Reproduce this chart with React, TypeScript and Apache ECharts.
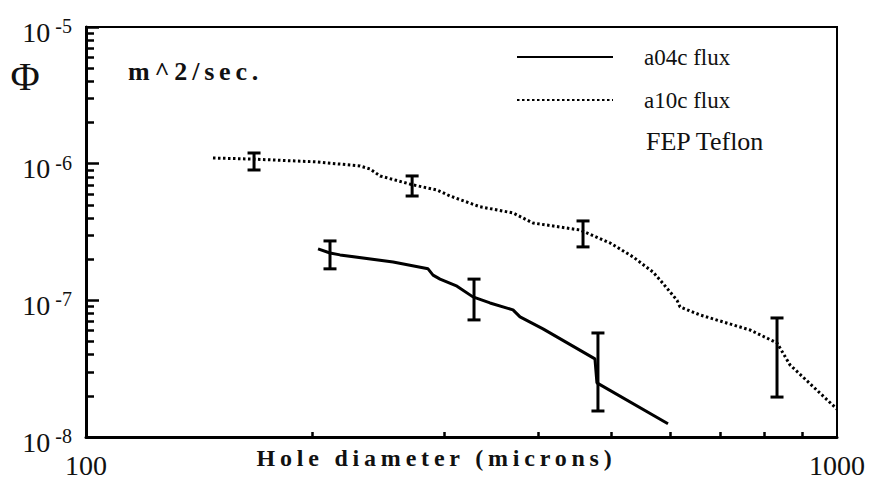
import React, { useEffect, useRef } from "react";
import * as echarts from "echarts";

// ---- data ----
const a04cX = [203.7, 211.3, 217.9, 256.4, 285.4, 289.8, 296.1, 311.9, 327.5, 345.1, 370.3, 378.4, 406.0, 476.1, 479.0, 595.6];
const a04cY = [2.38e-7, 2.22e-7, 2.15e-7, 1.91e-7, 1.70e-7, 1.53e-7, 1.43e-7, 1.27e-7, 1.06e-7, 9.57e-8, 8.51e-8, 7.56e-8, 6.18e-8, 3.73e-8, 2.49e-8, 1.25e-8];

const a10cX = [147.6, 166.9, 203.0, 231.6, 238.8, 246.4, 272.6, 293.4, 305.3, 334.6, 370.3, 393.7, 454.9, 498.7, 535.0, 568.9, 581.2, 612.4, 618.0, 656.9, 765.7, 832.0, 865.8, 1000];
const a10cY = [1.10e-6, 1.08e-6, 1.03e-6, 9.62e-7, 9.15e-7, 8.13e-7, 6.99e-7, 6.42e-7, 5.80e-7, 4.84e-7, 4.36e-7, 3.68e-7, 3.27e-7, 2.63e-7, 2.08e-7, 1.61e-7, 1.41e-7, 1.0e-7, 8.95e-8, 7.82e-8, 6.07e-8, 4.88e-8, 3.37e-8, 1.6e-8];

const a04cErrX = [211.3, 328.6, 480.5];
const a04cErrLow = [1.70e-7, 7.19e-8, 1.55e-8];
const a04cErrHigh = [2.72e-7, 1.43e-7, 5.77e-8];

const a10cErrX = [167.4, 271.8, 459.0, 832.0];
const a10cErrLow = [8.99e-7, 5.80e-7, 2.46e-7, 1.96e-8];
const a10cErrHigh = [1.197e-6, 8.13e-7, 3.81e-7, 7.43e-8];

const xMinorTicks = [200, 300, 400, 500, 600, 700, 800, 900];
const yMinorTicks = [
  2e-8, 3e-8, 4e-8, 5e-8, 6e-8, 7e-8, 8e-8, 9e-8,
  2e-7, 3e-7, 4e-7, 5e-7, 6e-7, 7e-7, 8e-7, 9e-7,
  2e-6, 3e-6, 4e-6, 5e-6, 6e-6, 7e-6, 8e-6, 9e-6,
];

const SERIF = "Liberation Serif, Times New Roman, serif";
const INK = "#111";

export default function App() {
  const ref = useRef<HTMLDivElement>(null);

  useEffect(() => {
    if (!ref.current) return;
    const chart = echarts.init(ref.current, undefined, { renderer: "svg" });

    const errData = (xs: number[], lo: number[], hi: number[]) => xs.map((x, i) => [x, lo[i], hi[i]]);
    const renderErr = (params: any, api: any) => {
      const x = api.value(0);
      const pLo = api.coord([x, api.value(1)]);
      const pHi = api.coord([x, api.value(2)]);
      const hw = 6.5;
      const st = { stroke: "#000", lineWidth: 3 };
      return {
        type: "group",
        children: [
          { type: "line", shape: { x1: pLo[0], y1: pLo[1], x2: pHi[0], y2: pHi[1] }, style: st },
          { type: "line", shape: { x1: pHi[0] - hw, y1: pHi[1], x2: pHi[0] + hw, y2: pHi[1] }, style: st },
          { type: "line", shape: { x1: pLo[0] - hw, y1: pLo[1], x2: pLo[0] + hw, y2: pLo[1] }, style: st },
        ],
      };
    };

    chart.setOption({
      animation: false,
      backgroundColor: "#fff",
      grid: {
        show: true,
        left: 86,
        right: 33,
        top: 27,
        bottom: 46,
        outerBoundsMode: "none",
        containLabel: false,
        borderColor: "#000",
        borderWidth: 2,
        backgroundColor: "transparent",
      },
      legend: {
        data: ["a04c flux", "a10c flux"],
        orient: "vertical",
        left: 511,
        top: 35,
        itemWidth: 96,
        itemHeight: 14,
        itemGap: 9,
        itemStyle: { opacity: 0 },
        textStyle: {
          fontFamily: SERIF,
          fontSize: 23,
          color: INK,
          lineHeight: 24,
          padding: [10, 0, 0, 26],
        },
      },
      xAxis: {
        type: "log",
        logBase: 10,
        min: 100,
        max: 1000,
        name: "Hole diameter (microns)",
        nameLocation: "middle",
        nameGap: 9,
        nameMoveOverlap: false,
        nameTextStyle: {
          fontFamily: SERIF,
          fontSize: 24,
          fontWeight: "bold",
          color: INK,
          verticalAlign: "top",
          padding: [0, 50, 0, 0],
        },
        axisLine: { show: true, lineStyle: { color: "#000", width: 3 } },
        axisTick: {
          show: true,
          inside: true,
          length: 5,
          customValues: xMinorTicks,
          lineStyle: { color: "#000", width: 2.5 },
        },
        axisLabel: {
          margin: 14,
          fontFamily: SERIF,
          fontSize: 28,
          lineHeight: 28,
          color: INK,
          formatter: (v: number) => `${Math.round(v)}`,
        },
        splitLine: { show: false },
      },
      yAxis: [
        {
          type: "log",
          logBase: 10,
          min: 1e-8,
          max: 1e-5,
          position: "left",
          axisLine: { show: true, lineStyle: { color: "#000", width: 3 } },
          axisTick: { show: true, inside: true, length: 13, lineStyle: { color: "#000", width: 2.5 } },
          axisLabel: {
            margin: 14,
            padding: [10, 0, 0, 0],
            formatter: (v: number) => `{b|10}{s|${Math.round(Math.log10(v))}}`,
            rich: {
              b: { fontFamily: SERIF, fontSize: 28, lineHeight: 32, color: INK },
              s: { fontFamily: SERIF, fontSize: 20, lineHeight: 18, color: INK, verticalAlign: "top", padding: [0, 0, 0, 5] },
            },
          },
          splitLine: { show: false },
        },
        {
          type: "log",
          logBase: 10,
          min: 1e-8,
          max: 1e-5,
          position: "left",
          axisLine: { show: false },
          axisTick: {
            show: true,
            inside: true,
            length: 8,
            customValues: yMinorTicks,
            lineStyle: { color: "#000", width: 2.5 },
          },
          axisLabel: { show: false },
          splitLine: { show: false },
        },
      ],
      graphic: [
        {
          type: "text",
          x: 25,
          y: 76,
          style: { text: "Φ", fontFamily: SERIF, fontSize: 40, fill: INK, textAlign: "center", textVerticalAlign: "middle" },
        },
        {
          type: "text",
          x: 128,
          y: 71,
          style: { text: "m^2/sec.", fontFamily: SERIF, fontSize: 26, fontWeight: "bold", fill: INK, textAlign: "left", textVerticalAlign: "middle" },
        },
        {
          type: "text",
          x: 646,
          y: 141,
          style: { text: "FEP Teflon", fontFamily: SERIF, fontSize: 26, fill: INK, textAlign: "left", textVerticalAlign: "middle" },
        },
      ],
      series: [
        {
          name: "a04c flux",
          type: "line",
          symbol: "none",
          data: a04cX.map((x, i) => [x, a04cY[i]]),
          lineStyle: { color: "#000", width: 3 },
          itemStyle: { color: "#000" },
        },
        {
          name: "a10c flux",
          type: "line",
          symbol: "none",
          data: a10cX.map((x, i) => [x, a10cY[i]]),
          lineStyle: { color: "#000", width: 3, type: [2.5, 2.5] },
          itemStyle: { color: "#000" },
        },
        {
          name: "a04c error",
          type: "custom",
          renderItem: renderErr,
          encode: { x: 0, y: [1, 2] },
          data: errData(a04cErrX, a04cErrLow, a04cErrHigh),
        },
        {
          name: "a10c error",
          type: "custom",
          renderItem: renderErr,
          encode: { x: 0, y: [1, 2] },
          data: errData(a10cErrX, a10cErrLow, a10cErrHigh),
        },
      ],
    });

    return () => chart.dispose();
  }, []);

  return (
    <>
      <style>{`#chartbox text[style*="bold"]{letter-spacing:4.8px;}`}</style>
      <div
        id="chartbox"
        ref={ref}
        style={{ position: "fixed", left: 0, top: 0, width: 870, height: 483, background: "#fff" }}
      />
    </>
  );
}
